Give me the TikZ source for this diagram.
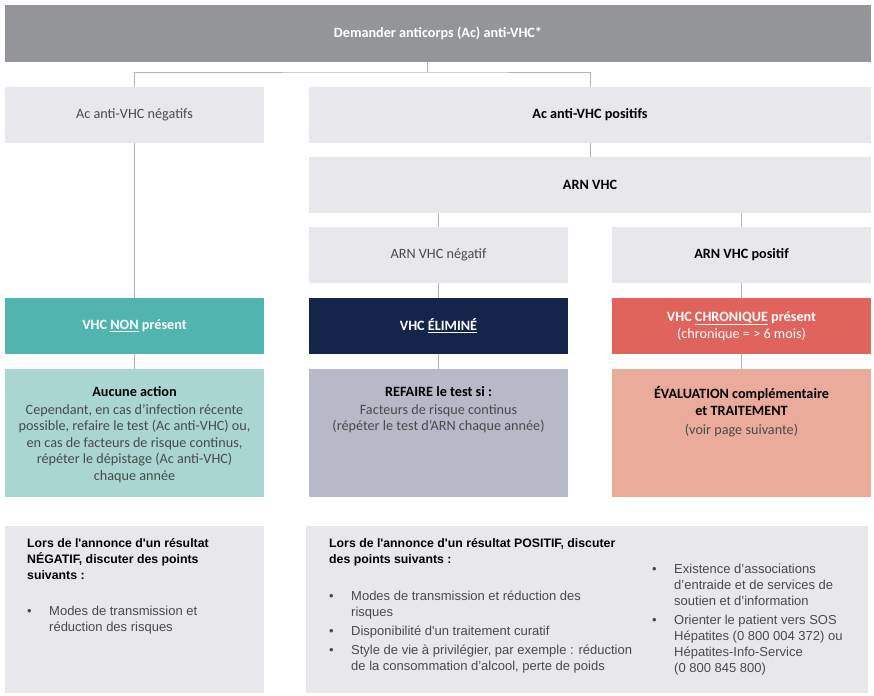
\documentclass[tikz,border=0pt]{standalone}
\usepackage{fontspec}
\setmainfont{Carlito}
\newfontfamily\bodyfont{Liberation Sans}
\usetikzlibrary{positioning}
\definecolor{topgray}{HTML}{939598}
\definecolor{palegray}{HTML}{E8E7EC}
\definecolor{tealbox}{HTML}{4FB5AE}
\definecolor{navybox}{HTML}{14244A}
\definecolor{coralbox}{HTML}{E0645C}
\definecolor{paleteal}{HTML}{A9D6D1}
\definecolor{palenavy}{HTML}{B7B8C8}
\definecolor{salmonbox}{HTML}{EBAB9A}
\definecolor{linegray}{HTML}{B4B4B4}
\definecolor{greytext}{HTML}{4A4A4A}
\tikzset{
box/.style={rectangle, inner sep=0pt, align=center, font=\fontsize{14.2}{16.5}\selectfont},
halfbox/.style={box, minimum width=259, minimum height=56},
widebox/.style={box, minimum width=562, minimum height=56},
tallbox/.style={box, minimum width=259, minimum height=128},
boxtext/.style={inner sep=0pt, align=center, text=greytext, font=\fontsize{14.2}{16.5}\selectfont},
infotext/.style={inner sep=0pt, align=left, anchor=north west, text=greytext, font=\bodyfont\fontsize{13}{16}\selectfont},
infotitle/.style={infotext, text=black, font=\bodyfont\bfseries\fontsize{12.3}{16}\selectfont},
link/.style={draw=linegray, line width=0.9pt},
}
\newcommand{\bul}{\makebox[22pt][l]{\textbullet}}
\newcommand{\bulind}{\hspace*{22pt}}

\begin{document}
\begin{tikzpicture}[x=1pt, y=-1pt]
    \useasboundingbox (0,0) rectangle (874,695);

    %question
    \node[box, fill=topgray, text=white, minimum width=866, minimum height=57] (top) at (438,33.5) {\bfseries Demander anticorps (Ac) anti-VHC*};
    \coordinate (split) at (427,72);

    %antibodies
    \node[halfbox, fill=palegray, text=greytext] (acneg) at (134.5,115) {Ac anti-VHC négatifs};
    \node[widebox, fill=palegray] (acpos) at (590,115) {\bfseries Ac anti-VHC positifs};

    %RNA
    \node[widebox, fill=palegray] (arn) at (590,185) {\bfseries ARN VHC};
    \node[halfbox, fill=palegray, text=greytext] (arnneg) at (438.5,255) {ARN VHC négatif};
    \node[halfbox, fill=palegray] (arnpos) at (741.5,255) {\bfseries ARN VHC positif};

    %status
    \node[halfbox, fill=tealbox, text=white] (nonpres) at (134.5,326) {\bfseries VHC \underline{NON} présent};
    \node[halfbox, fill=navybox, text=white] (elim) at (438.5,326) {\bfseries VHC \underline{ÉLIMINÉ}};
    \node[halfbox, fill=coralbox, text=white] (chron) at (741.5,326) {\bfseries VHC \underline{CHRONIQUE} présent\\(chronique = > 6 mois)};

    %actions
    \node[tallbox, fill=paleteal] (aucune) at (134.5,433) {};
    \node[tallbox, fill=palenavy] (refaire) at (438.5,433) {};
    \node[tallbox, fill=salmonbox] (eval) at (741.5,433) {};
    \node[boxtext, anchor=north, below=18pt of aucune.north] (aucunetxt) {\textcolor{black}{\bfseries Aucune action}\\[1pt]Cependant, en cas d'infection récente\\possible, refaire le test (Ac anti-VHC) ou,\\en cas de facteurs de risque continus,\\répéter le dépistage (Ac anti-VHC)\\chaque année};
    \node[boxtext, anchor=north, below=18pt of refaire.north] (refairetxt) {\textcolor{black}{\bfseries REFAIRE le test si :}\\[1pt]Facteurs de risque continus\\(répéter le test d'ARN chaque année)};
    \node[boxtext, anchor=north, below=18pt of eval.north] (evaltxt) {\textcolor{black}{\bfseries ÉVALUATION complémentaire}\\\textcolor{black}{\bfseries et TRAITEMENT}\\[3pt](voir page suivante)};

    %information
    \node[box, fill=palegray, minimum width=259, minimum height=167] (infoneg) at (134.5,609.5) {};
    \node[box, fill=palegray, minimum width=562, minimum height=167] (infopos) at (587,609.5) {};
    \node[infotitle] (negtitle) at (27,538) {Lors de l'annonce d'un résultat\\NÉGATIF, discuter des points\\suivants :};
    \node[infotext, below=26pt of negtitle.south west, anchor=north west] (neglist) {\bul Modes de transmission et\\\bulind réduction des risques};
    \node[infotitle] (postitle) at (329,538) {Lors de l'annonce d'un résultat POSITIF, discuter\\des points suivants :};
    \node[infotext, below=25pt of postitle.south west, anchor=north west] (poslist) {\bul Modes de transmission et réduction des\\\bulind risques\\[3pt]\bul Disponibilité d'un traitement curatif\\[3pt]\bul Style de vie à privilégier, par exemple : réduction\\\bulind de la consommation d’alcool, perte de poids};
    \node[infotext] (poslist2) at (652,564) {\bul Existence d’associations\\\bulind d’entraide et de services de\\\bulind soutien et d’information\\[3pt]\bul Orienter le patient vers SOS\\\bulind Hépatites (0 800 004 372) ou\\\bulind Hépatites-Info-Service\\\bulind (0 800 845 800)};

    %links
    \draw[link] (split |- top.south) -- (split);
    \draw[link] (acneg.north) |- (split) -| (acpos.north);
    \draw[link] (acpos.south) -- (arn.north);
    \draw[link] (arn.south -| arnneg.north) -- (arnneg.north);
    \draw[link] (arn.south -| arnpos.north) -- (arnpos.north);
    \draw[link] (acneg.south) -- (nonpres.north);
    \draw[link] (arnneg.south) -- (elim.north);
    \draw[link] (arnpos.south) -- (chron.north);
    \draw[link] (nonpres.south) -- (aucune.north);
    \draw[link] (elim.south) -- (refaire.north);
    \draw[link] (chron.south) -- (eval.north);
\end{tikzpicture}
\end{document}
